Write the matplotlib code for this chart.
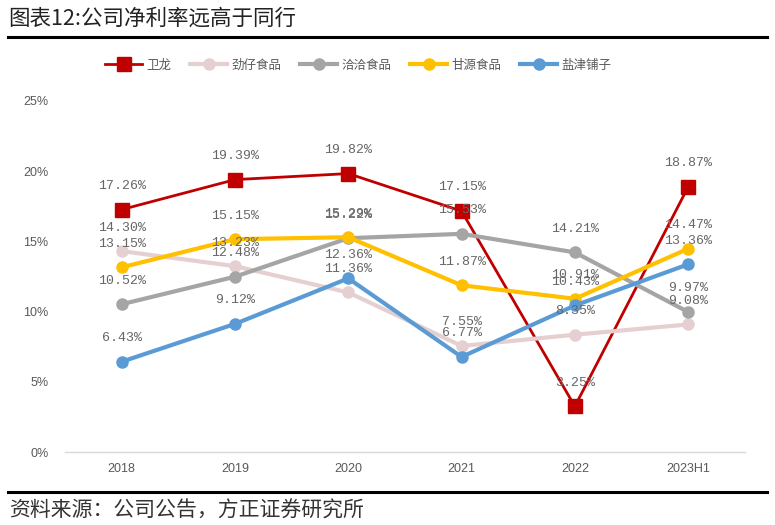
import matplotlib
matplotlib.use("Agg")
import matplotlib.pyplot as plt
from matplotlib.lines import Line2D

plt.rcParams['font.family'] = ['Noto Sans CJK SC', 'DejaVu Sans']

categories = ["2018", "2019", "2020", "2021", "2022", "2023H1"]
weilong = [17.26, 19.39, 19.82, 17.15, 3.25, 18.87]
jinzai = [14.30, 13.23, 11.36, 7.55, 8.35, 9.08]
qiaqia = [10.52, 12.48, 15.22, 15.53, 14.21, 9.97]
ganyuan = [13.15, 15.15, 15.29, 11.87, 10.91, 14.47]
yanjin = [6.43, 9.12, 12.36, 6.77, 10.43, 13.36]
yticks = [0, 5, 10, 15, 20, 25]

series = [
    ("卫龙", weilong, "#C00000", "s", 2.0, 9.5),
    ("劲仔食品", jinzai, "#E6CFD1", "o", 3.0, 8),
    ("洽洽食品", qiaqia, "#A5A5A5", "o", 3.0, 8),
    ("甘源食品", ganyuan, "#FFC000", "o", 3.0, 8),
    ("盐津铺子", yanjin, "#5B9BD5", "o", 3.0, 8),
]

fig = plt.figure(figsize=(7.75, 5.25), dpi=100)
ax = fig.add_axes([0.084, 0.139, 0.877, 0.669])
x = list(range(len(categories)))

handles = []
for name, vals, color, mk, lw, ms in series:
    ax.plot(x, vals, color=color, lw=lw, marker=mk, markersize=ms, zorder=3)
    handles.append(Line2D([0], [0], color=color, lw=lw, marker=mk, markersize=ms))

for name, vals, color, mk, lw, ms in series:
    for xi, v in zip(x, vals):
        ax.annotate(f"{v:.2f}%", (xi, v), xytext=(0, 17), textcoords="offset points",
                    ha="center", va="center", fontsize=9.5, color="#666666", zorder=5,
                    family=["Liberation Mono", "DejaVu Sans"])

ax.set_xlim(-0.5, len(categories) - 0.5)
ax.set_ylim(0, 25)
ax.set_xticks(x)
ax.set_xticklabels(categories, family=["Liberation Sans", "DejaVu Sans"])
ax.set_yticks(yticks)
ax.set_yticklabels([f"{t}%" for t in yticks], family=["Liberation Sans", "DejaVu Sans"])
ax.tick_params(axis="both", length=0, labelsize=9, labelcolor="#595959")
ax.tick_params(axis="x", pad=8)
ax.tick_params(axis="y", pad=12)
for s in ["top", "right", "left"]:
    ax.spines[s].set_visible(False)
ax.spines["bottom"].set_color("#D9D9D9")
ax.spines["bottom"].set_linewidth(1.0)

fig.legend(handles, [s[0] for s in series], loc="center", bbox_to_anchor=(0.462, 0.876),
           ncol=5, frameon=False, fontsize=9, labelcolor="#595959", handlelength=3.0,
           columnspacing=1.5, handletextpad=0.3)

fig.text(0.011, 0.965, "图表12:公司净利率远高于同行", fontsize=15.5, color="#222222",
         ha="left", va="center")
fig.add_artist(Line2D([0.01, 0.99], [0.929, 0.929], color="black", lw=2.2))
fig.add_artist(Line2D([0.01, 0.99], [0.063, 0.063], color="black", lw=2.2))
fig.text(0.011, 0.028, "资料来源：公司公告，方正证券研究所", fontsize=15, color="#333333",
         ha="left", va="center", style="italic")

fig.savefig("out.png", dpi=100)
